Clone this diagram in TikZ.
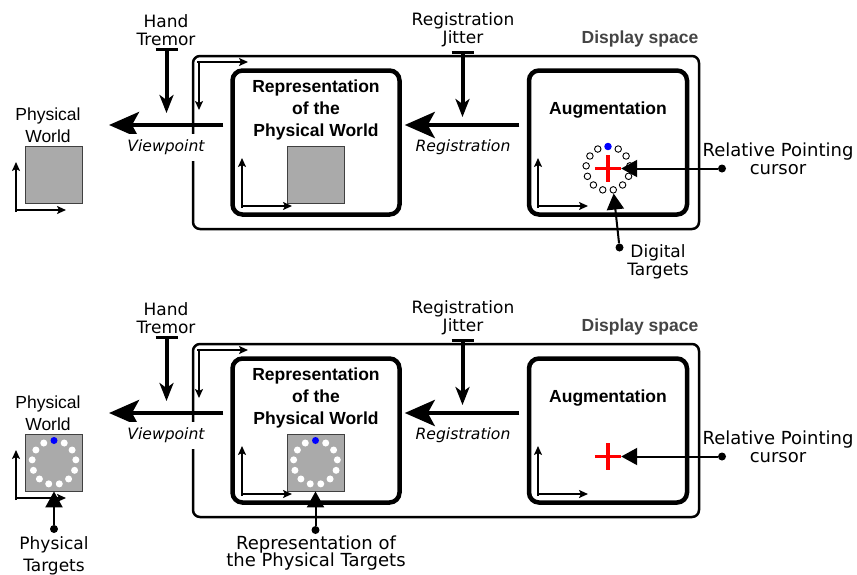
\documentclass[tikz,border=0pt]{standalone}
\usepackage{fontspec}
\usepackage{tikz}
\usetikzlibrary{arrows.meta, positioning, calc}

\newfontfamily\dejavu{DejaVu Sans}[ItalicFont={DejaVu Sans Oblique}]
\newfontfamily\libsans{Liberation Sans}
\definecolor{worldgray}{HTML}{AAAAAA}
\definecolor{spacegray}{HTML}{444444}

\begin{document}
\begin{tikzpicture}[
    x=1pt, y=-1pt,
    txt/.style={font=\dejavu\fontsize{17}{18}\selectfont, align=center, inner sep=0pt},
    callout/.style={font=\dejavu\fontsize{18}{18}\selectfont, align=center, inner sep=0pt},
    worldlbl/.style={font=\libsans\fontsize{17.5}{21.5}\selectfont, align=center, inner sep=0pt},
    ital/.style={font=\dejavu\itshape\fontsize{15.6}{18}\selectfont, inner sep=0pt},
    heading/.style={font=\libsans\bfseries\fontsize{17.5}{22}\selectfont, align=center, inner sep=0pt},
    dspace/.style={rectangle, draw=black, line width=2.5pt, rounded corners=7pt, minimum width=506pt, minimum height=173pt},
    layer/.style={rectangle, draw=black, line width=4.5pt, rounded corners=10pt, minimum height=144pt},
    world/.style={rectangle, draw=black!75, fill=worldgray, line width=0.8pt, minimum size=57pt, inner sep=0pt},
    bigarrow/.style={line width=4.5pt, -{Stealth[length=30pt, width=26pt, inset=7pt]}},
    noise/.style={line width=4pt, {Bar[width=22pt, line width=3pt]}-{Stealth[length=18pt, width=14pt, inset=5pt]}},
    axis/.style={line width=1.8pt, -{Stealth[length=9pt, width=8pt, inset=2pt]}},
    pointer/.style={line width=2pt, -{Triangle[length=16pt, width=17pt]}},
    dot/.style={circle, fill=black, minimum size=8pt, inner sep=0pt},
    target/.style={circle, draw=black, fill=white, line width=0.9pt, minimum size=6.5pt, inner sep=0pt},
    pin/.style={circle, fill=white, minimum size=7pt, inner sep=0pt},
]
\useasboundingbox (0,0) rectangle (857,574);

% Digital targets round the cursor (top panel only)
\coordinate (ring) at (608,168.5);
\foreach \i in {1,...,12}
  \node[target] (tg\i) at ($(ring)+(-90+\i*27.692:22)$) {};
\node[target, draw=blue, fill=blue] (tg0) at ($(ring)+(-90:22)$) {};

% Both panels share the same pipeline
\foreach \dy/\p in {0/a, 288/b} {
\begin{scope}[shift={(0,\dy)}]
  % Boxes
  \node[dspace] (disp\p) at (446,142.5) {};
  \node[layer, minimum width=167pt] (rep\p) at (316,142.5) {};
  \node[layer, minimum width=158pt] (aug\p) at (608,142.5) {};
  \node[heading, text=spacegray] (displbl\p) at (640,39) {Display space};
  \node[heading] (reptitle\p) at (316,110) {Representation\\of the\\Physical World};
  \node[heading] (augtitle\p) at (608,110) {Augmentation};
  \node[world] (pw\p) at (54,174.5) {};
  \node[world] (rw\p) at (315.5,174.5) {};
  \node[worldlbl] (pwlbl\p) at (48,125) {Physical\\World};

  % Frames
  \foreach \ox/\oy in {16/210, 242/206, 538/206} {
    \draw[axis] (\ox,\oy+2) -- (\ox,\oy-48);
    \draw[axis] (\ox-1,\oy) -- (\ox+50,\oy);
  }
  \draw[axis] (197,62) -- (248,62);
  \draw[axis] (199,61) -- (199,110);

  % Viewpoint and registration
  \coordinate (eye\p) at (109,125);
  \draw[bigarrow, shorten <=7pt] ([yshift=17.5pt]rep\p.west) -- (eye\p);
  \draw[bigarrow, shorten <=7.5pt, shorten >=3pt] ([yshift=17.5pt]aug\p.west) -- ([yshift=17.5pt]rep\p.east);
  \node[ital, fill=white, inner sep=6pt] (vplbl\p) at (166,147.5) {Viewpoint};
  \node[ital] (reglbl\p) at (463,147.5) {Registration};

  % Noise sources
  \node[txt] (tremor\p) at (166,30) {Hand\\Tremor};
  \node[txt] (jitter\p) at (463,30) {Registration\\Jitter};
  \coordinate (tremortop\p) at (166.5,48);
  \coordinate (tremortip\p) at (166.5,113);
  \coordinate (jittertop\p) at (462.5,51);
  \coordinate (jittertip\p) at (462.5,117);
  \draw[noise] (tremortop\p) -- (tremortip\p);
  \draw[noise] (jittertop\p) -- (jittertip\p);

  % Cursor
  \node[minimum size=26pt, inner sep=0pt] (cross\p) at (608,168.5) {};
  \draw[red, line width=3.5pt] (cross\p.north) -- (cross\p.south) (cross\p.west) -- (cross\p.east);
  \node[dot] (curdot\p) at (722,168.5) {};
  \node[callout] (curlbl\p) at (778,159) {Relative Pointing\\cursor};
  \draw[pointer] (curdot\p) -- (cross\p.east);
\end{scope}
}

% Physical targets (bottom panel)
\foreach \w in {pwb, rwb} {
  \foreach \i in {1,...,12}
    \node[pin] (\w\i) at ($(\w)+(-90+\i*27.692:22)$) {};
  \node[pin, fill=blue] (\w0) at ($(\w)+(-90:22)$) {};
}

% Callouts
\node[dot] (dtdot) at (619.5,247.5) {};
\node[txt] (dtlbl) at (658,262) {Digital\\Targets};
\draw[pointer] (dtdot) -- (tg6);

\node[dot] (ptdot) at (54,529) {};
\node[txt] (ptlbl) at (54,556) {Physical\\[3.5pt]Targets};
\draw[pointer] (ptdot) -- (pwb.south);

\node[dot] (rtdot) at (315.5,530) {};
\node[callout] (rtlbl) at (316,553) {Representation of\\[-1pt]the Physical Targets};
\draw[pointer] (rtdot) -- (rwb.south);
\end{tikzpicture}
\end{document}
